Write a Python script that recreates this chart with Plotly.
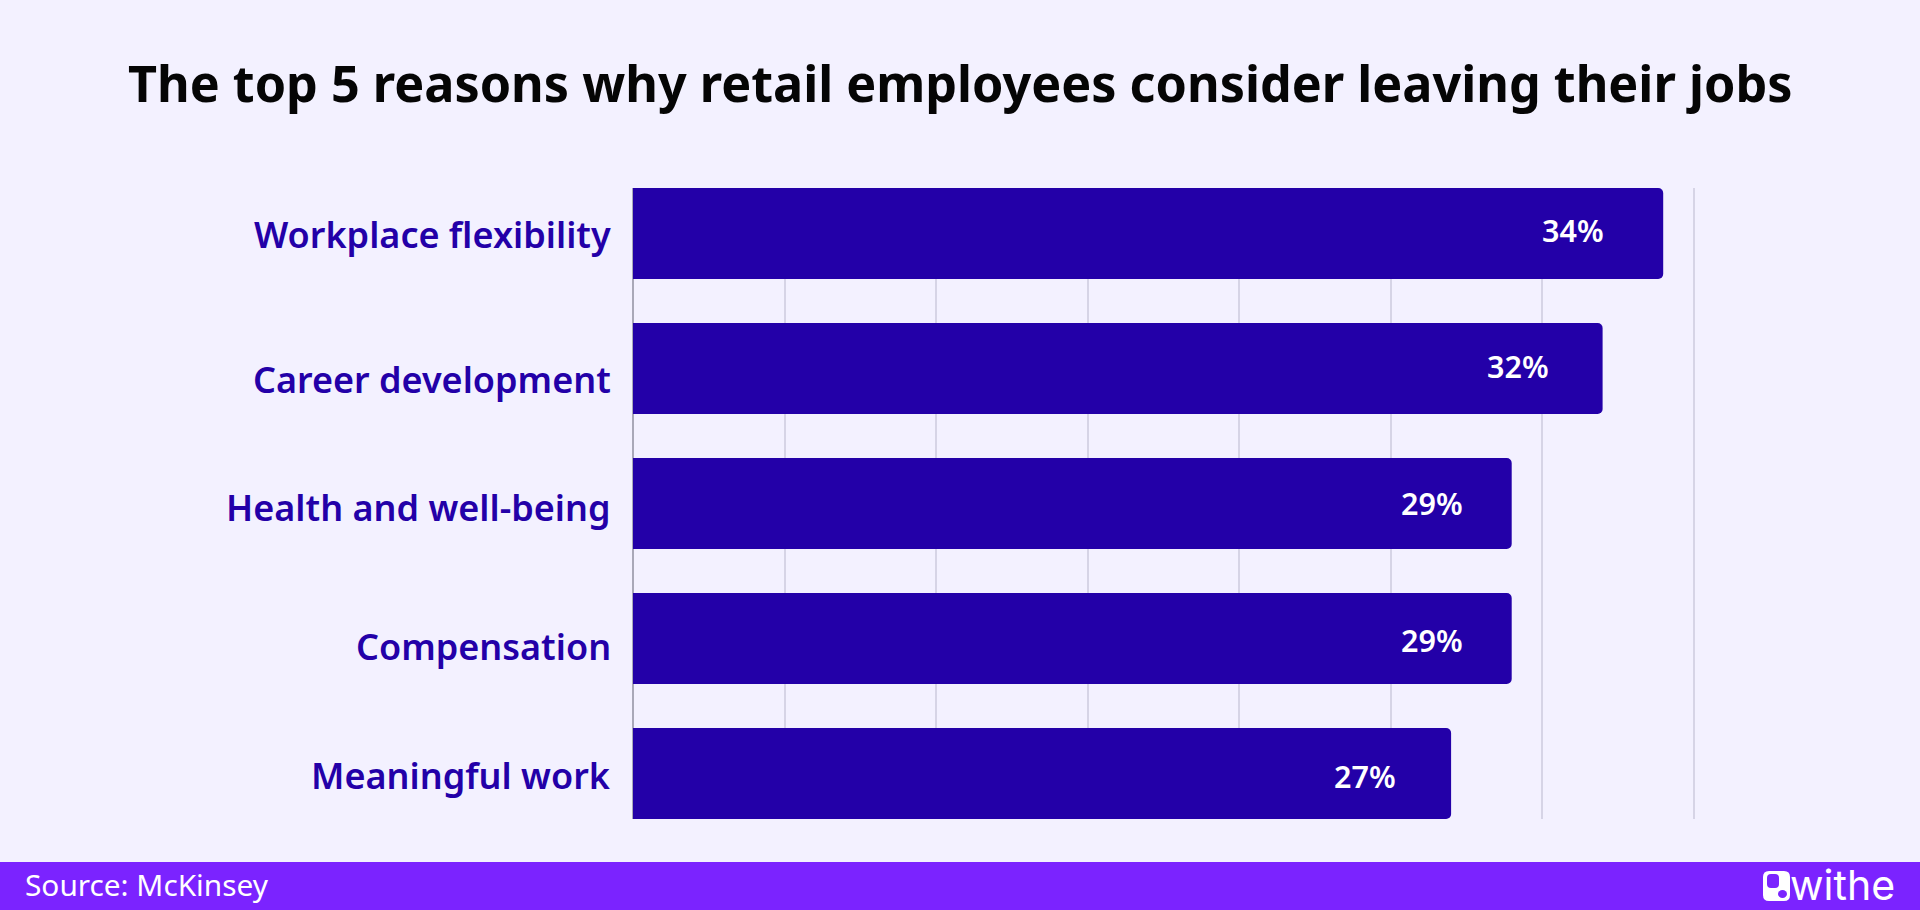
import plotly.graph_objects as go

W, H = 1920, 910
categories = ["Workplace flexibility", "Career development", "Health and well-being", "Compensation", "Meaningful work"]
values = [34, 32, 29, 29, 27]
x_ticks = [0, 5, 10, 15, 20, 25, 30, 35]

# small offsets (pixels) of the labels from their bar centres, as in the reference
cat_yshift = [-1, -11, -4, -8, -2]
val_xshift = [-57, -52, -47, -47, -53]
val_yshift = [3, 2, 0, -1, -2]

BG = "#F3F1FF"
BAR = "#2300A8"
FOOT = "#7B23FF"
FONT = "Noto Sans"

def fx(p): return p / W
def fy(p): return 1 - p / H

fig = go.Figure(go.Bar(
    x=values, y=categories, orientation="h", width=0.674,
    marker=dict(color=BAR, line=dict(width=0)), hoverinfo="skip"))

ann = []
for c, v, dy, dx, vy in zip(categories, values, cat_yshift, val_xshift, val_yshift):
    ann.append(dict(x=0, y=c, xref="x", yref="y", text=c, showarrow=False, xanchor="right",
                    xshift=-20, yshift=dy, font=dict(family=FONT, size=36, color=BAR, weight=600)))
    ann.append(dict(x=v, y=c, xref="x", yref="y", text=f"{v}%", showarrow=False, xanchor="right",
                    xshift=dx, yshift=vy, font=dict(family=FONT, size=30.5, color="white", weight=600)))
ann.append(dict(x=0.5, y=fy(82.5), xref="paper", yref="paper", text="The top 5 reasons why retail employees consider leaving their jobs",
                showarrow=False, xanchor="center", yanchor="middle",
                font=dict(family=FONT, size=50.3, color="#050505", weight=700)))
ann.append(dict(x=fx(23), y=fy(884), xref="paper", yref="paper", text="Source: McKinsey", showarrow=False,
                xanchor="left", yanchor="middle", font=dict(family=FONT, size=29.8, color="white")))
ann.append(dict(x=fx(1897), y=fy(885), xref="paper", yref="paper", text="withe", showarrow=False,
                xanchor="right", yanchor="middle", font=dict(family="Inter", size=41, color="white", weight=400)))

def rrect(x0, y0, x1, y1, r):
    X0, X1, Y0, Y1 = fx(x0), fx(x1), fy(y0), fy(y1)
    rx, ry = r / W, r / H
    return (f"M{X0+rx},{Y0} L{X1-rx},{Y0} Q{X1},{Y0} {X1},{Y0-ry} L{X1},{Y1+ry} Q{X1},{Y1} {X1-rx},{Y1} "
            f"L{X0+rx},{Y1} Q{X0},{Y1} {X0},{Y1+ry} L{X0},{Y0-ry} Q{X0},{Y0} {X0+rx},{Y0} Z")

shapes = [
    dict(type="rect", xref="paper", yref="paper", x0=0, x1=1, y0=0, y1=fy(862), fillcolor=FOOT, line_width=0, layer="below"),
    dict(type="path", xref="paper", yref="paper", path=rrect(1763, 871, 1790, 901, 6), fillcolor="white", line_width=0),
    dict(type="path", xref="paper", yref="paper", path=rrect(1767, 874, 1779, 888, 4), fillcolor=FOOT, line_width=0),
    dict(type="circle", xref="paper", yref="paper", x0=fx(1778), x1=fx(1787), y0=fy(898), y1=fy(890), fillcolor=FOOT, line_width=0),
]

fig.update_layout(
    width=W, height=H, autosize=False,
    margin=dict(l=0, r=0, t=0, b=0, pad=0),
    paper_bgcolor=BG, plot_bgcolor=BG, showlegend=False,
    barcornerradius=5, annotations=ann, shapes=shapes,
    xaxis=dict(domain=[fx(633), fx(633 + 35.2 * 30.3)], range=[0, 35.2], tickvals=x_ticks, showticklabels=False,
               showgrid=True, gridcolor="#D6D4E6", gridwidth=1.5, zeroline=True, zerolinecolor="#A9A8B8",
               zerolinewidth=1.5, ticks="", fixedrange=True),
    yaxis=dict(domain=[fy(819), fy(188)], range=[4.337, -0.337], type="category", categoryorder="array",
               categoryarray=categories, showticklabels=False, showgrid=False, zeroline=False, ticks="", fixedrange=True),
)
fig.write_html("out.html", config=dict(displayModeBar=False),
               post_script="document.body.style.margin='0';document.body.style.overflow='hidden';document.body.style.background='#F3F1FF';")
